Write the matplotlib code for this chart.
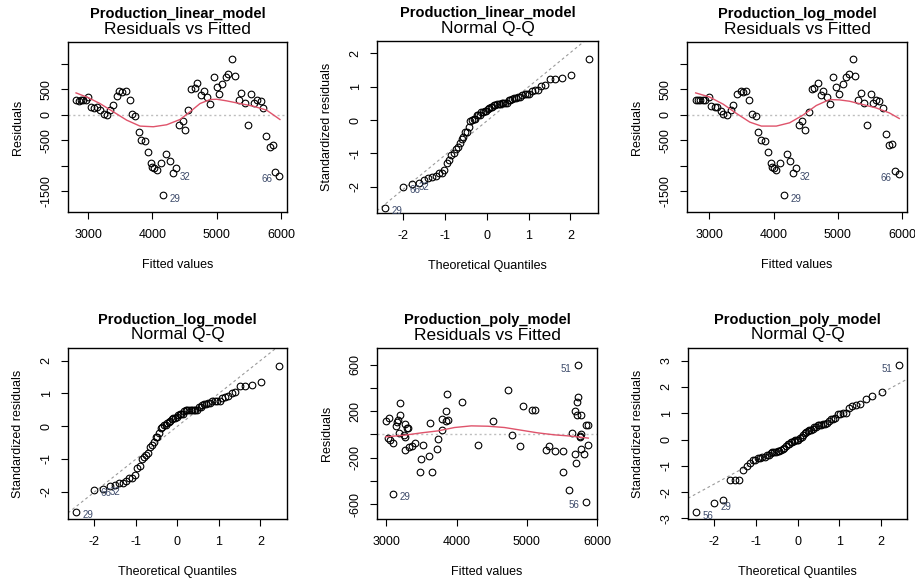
import statistics
import numpy as np
import matplotlib
matplotlib.use("Agg")
import matplotlib.pyplot as plt

plt.rcParams['font.family'] = ['Liberation Sans', 'DejaVu Sans']
plt.rcParams['axes.unicode_minus'] = False

# --- linear model: fitted values and residuals ---
lin_fitted = [2814, 2855, 2891, 2927, 2969, 3000, 3047, 3098, 3135, 3186,
              3243, 3300, 3342, 3394, 3445, 3477, 3534, 3591, 3648, 3679,
              3730, 3787, 3829, 3881, 3932, 3979, 4000, 4031, 4072, 4129,
              4166, 4212, 4269, 4321, 4362, 4414, 4471, 4502, 4554, 4606,
              4668, 4699, 4751, 4803, 4844, 4896, 4953, 5000, 5036, 5088,
              5145, 5181, 5238, 5290, 5341, 5383, 5435, 5486, 5538, 5580,
              5631, 5683, 5725, 5766, 5823, 5870, 5911, 5973]
lin_resid = [294, 275, 294, 301, 301, 360, 157, 137, 157, 92,
             20, -7, 92, 203, 373, 471, 458, 471, 294, 20,
             -20, -340, -497, -523, -726, -955, -1020, -1046, -1086, -955,
             -1583, -772, -909, -1151, -1040, -209, -118, -301, 92, 517,
             536, 628, 399, 471, 353, 222, 746, 549, 419, 615,
             746, 811, 1105, 759, 301, 425, 229, -209, 405, 229,
             301, 275, 137, -412, -628, -602, -1131, -1203]
lin_smooth_x = [2814, 3000, 3186, 3394, 3601, 3808, 4015, 4223, 4430, 4585,
                4741, 4896, 5000, 5155, 5362, 5569, 5776, 5983]
lin_smooth_y = [432, 340, 222, 59, -105, -222, -235, -196, -92, 59,
                222, 301, 307, 275, 222, 170, 92, -92]
lin_flagged = {29: 30, 32: 33, 66: 67}
lin_sigma = 603

# --- log model ---
log_fitted = [2788, 2824, 2855, 2897, 2938, 3000, 3026, 3088, 3124, 3186,
              3217, 3279, 3341, 3372, 3424, 3486, 3527, 3569, 3620, 3672,
              3734, 3765, 3811, 3868, 3920, 3961, 3982, 4003, 4044, 4106,
              4158, 4210, 4261, 4303, 4344, 4396, 4448, 4489, 4551, 4592,
              4634, 4696, 4737, 4778, 4830, 4882, 4923, 4975, 5027, 5079,
              5130, 5171, 5233, 5275, 5316, 5368, 5414, 5456, 5512, 5554,
              5595, 5647, 5699, 5745, 5792, 5844, 5885, 5947]
log_resid = [294, 294, 294, 294, 294, 353, 170, 157, 157, 72,
             20, -13, 92, 203, 405, 471, 458, 471, 294, 20,
             -26, -340, -497, -523, -726, -955, -1020, -1046, -1086, -955,
             -1583, -772, -909, -1151, -1040, -209, -118, -301, 65, 517,
             536, 628, 399, 471, 353, 222, 746, 549, 419, 615,
             746, 811, 1105, 759, 301, 425, 229, -209, 405, 229,
             301, 275, 137, -386, -602, -576, -1105, -1171]
log_smooth_x = [2788, 3000, 3217, 3424, 3631, 3811, 4044, 4251, 4458, 4665,
                4872, 5027, 5182, 5389, 5595, 5802, 5957]
log_smooth_y = [432, 353, 209, 26, -144, -222, -222, -157, -6, 183,
                301, 294, 268, 203, 137, 39, -72]
log_flagged = {29: 30, 32: 33, 66: 67}
log_sigma = 603

# --- polynomial model ---
poly_fitted = [2991, 3024, 3043, 3057, 3095, 3095, 3137, 3147, 3166, 3185,
               3194, 3194, 3251, 3261, 3261, 3270, 3289, 3308, 3318, 3365,
               3403, 3479, 3488, 3517, 3602, 3621, 3649, 3720, 3739, 3796,
               3796, 3844, 3848, 3867, 3877, 4076, 4303, 4521, 4734, 4791,
               4900, 4948, 5080, 5118, 5275, 5322, 5403, 5517, 5517, 5607,
               5645, 5682, 5682, 5706, 5711, 5716, 5735, 5735, 5753, 5763,
               5768, 5773, 5777, 5810, 5843, 5848, 5877, 5877]
poly_resid = [118, -34, 145, -49, -77, -509, 72, 104, 128, 17,
              268, 170, -6, 88, -137, -20, 52, 60, -111, -97,
              -71, -323, -209, -89, -186, 98, -323, -126, -37, 134,
              40, 200, 120, 350, 122, 276, -89, 120, 380, -6,
              -97, 248, 212, 212, -137, -97, -146, -146, -323, -480,
              14, 203, -166, -246, 166, 280, 320, 594, -14, -20,
              -126, 165, 0, -166, -580, 78, 78, -86]
poly_smooth_x = [2991, 3261, 3498, 3735, 3972, 4209, 4446, 4682, 4919, 5156,
                 5393, 5630, 5877]
poly_smooth_y = [-20, -6, 14, 31, 60, 74, 71, 60, 37, 14, -3, -14, -31]
poly_flagged = {29: 5, 51: 57, 56: 64}
poly_sigma = 210

W, H = 915, 581
fig = plt.figure(figsize=(W / 100, H / 100), dpi=100)
label_col = '#3c4a6a'


def fx(px):
    return px / W


def fy(py):
    return 1 - py / H


def make_axes(box, xlim, ylim, xticks, yticks, ylabels, title, caption, xlabel, ylabel):
    l, t, r, b = box
    ax = fig.add_axes([fx(l), fy(b), (r - l) / W, (b - t) / H])
    ax.set_xlim(xlim)
    ax.set_ylim(ylim)
    ax.set_xticks(xticks)
    ax.set_xticklabels([str(v) for v in xticks])
    ax.set_yticks(yticks)
    ax.set_yticklabels(ylabels, rotation=90, va='center')
    ax.tick_params(length=5, width=0.8, labelsize=9, direction='out')
    ax.tick_params(axis='x', pad=7.5)
    ax.tick_params(axis='y', pad=6)
    for s in ax.spines.values():
        s.set_linewidth(1.0)
    cx = (l + r) / 2
    fig.text(fx(cx), fy(t - 28), title, ha='center', va='center',
             fontsize=10.5, fontweight='bold')
    fig.text(fx(cx), fy(t - 13), caption, ha='center', va='center', fontsize=12.5)
    fig.text(fx(cx), fy(b + 53), xlabel, ha='center', va='center', fontsize=9)
    fig.text(fx(l - 50), fy((t + b) / 2), ylabel, ha='center', va='center',
             fontsize=9, rotation=90)
    return ax


def tag(ax, x, y, name):
    lo, hi = ax.get_xlim()
    right = x < (lo + hi) / 2
    ax.annotate(str(name), (x, y), xytext=(5 if right else -5, -2.5),
                textcoords='offset points', ha='left' if right else 'right',
                va='center', fontsize=7, color=label_col)


def resid_panel(box, fitted, resid, sx, sy, flagged, title, xlim, ylim,
                yticks, ylabels):
    ax = make_axes(box, xlim, ylim, [3000, 4000, 5000, 6000], yticks, ylabels,
                   title, 'Residuals vs Fitted', 'Fitted values', 'Residuals')
    ax.axhline(0, color='#BEBEBE', ls=(0, (1.5, 2)), lw=1)
    ax.plot(fitted, resid, 'o', mfc='none', mec='black', ms=4.8, mew=0.8)
    ax.plot(sx, sy, color='#DF536B', lw=1)
    for name, i in flagged.items():
        tag(ax, fitted[i], resid[i], name)
    return ax


def qq_panel(box, resid, sigma, flagged, title, xlim, ylim, yticks):
    ax = make_axes(box, xlim, ylim, [-2, -1, 0, 1, 2], yticks,
                   [str(v) for v in yticks], title, 'Normal Q-Q',
                   'Theoretical Quantiles', 'Standardized residuals')
    std = np.array(resid) / sigma
    n = len(std)
    order = np.argsort(std)
    nd = statistics.NormalDist()
    theo = np.array([nd.inv_cdf((i + 0.5) / n) for i in range(n)])
    q1, q3 = np.quantile(std, [0.25, 0.75])
    t1, t3 = nd.inv_cdf(0.25), nd.inv_cdf(0.75)
    ax.axline((t1, q1), slope=(q3 - q1) / (t3 - t1), color='#9a9a9a',
              ls=(0, (2.5, 2.5)), lw=0.8)
    ax.plot(theo, std[order], 'o', mfc='none', mec='black', ms=4.8, mew=0.8)
    for name, i in flagged.items():
        pos = int(np.where(order == i)[0][0])
        tag(ax, theo[pos], std[i], name)
    return ax


big_ticks = [-1500, -1000, -500, 0, 500, 1000]
big_labels = ['-1500', '', '-500', '0', '500', '']

resid_panel((68, 42, 287, 212), lin_fitted, lin_resid, lin_smooth_x, lin_smooth_y,
            lin_flagged, 'Production_linear_model', (2689, 6093), (-1915, 1435),
            big_ticks, big_labels)
qq_panel((377, 41, 598, 213), lin_resid, lin_sigma, lin_flagged,
         'Production_linear_model', (-2.63, 2.66), (-2.79, 2.37), [-2, -1, 0, 1, 2])
resid_panel((687, 42, 907, 212), log_fitted, log_resid, log_smooth_x, log_smooth_y,
            log_flagged, 'Production_log_model', (2653, 6078), (-1915, 1435),
            big_ticks, big_labels)
qq_panel((68, 348, 287, 519), log_resid, log_sigma, log_flagged,
         'Production_log_model', (-2.63, 2.64), (-2.84, 2.39), [-2, -1, 0, 1, 2])
resid_panel((377, 348, 597, 519), poly_fitted, poly_resid, poly_smooth_x, poly_smooth_y,
            poly_flagged, 'Production_poly_model', (2867, 5995), (-726, 743),
            [-600, -400, -200, 0, 200, 400, 600],
            ['-600', '', '-200', '', '200', '', '600'])
qq_panel((688, 348, 907, 519), poly_resid, poly_sigma, poly_flagged,
         'Production_poly_model', (-2.63, 2.62), (-3.02, 3.48), [-3, -2, -1, 0, 1, 2, 3])

fig.savefig('out.png', dpi=100)
